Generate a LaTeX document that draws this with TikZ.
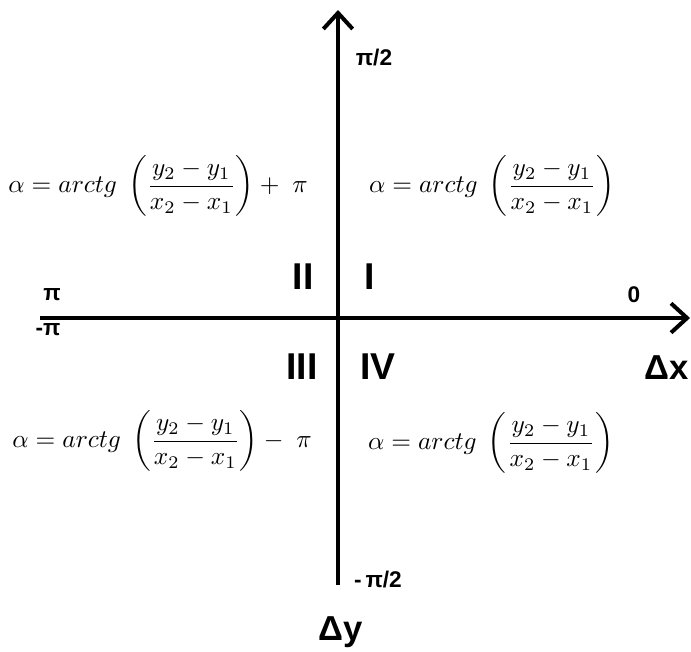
\documentclass[tikz,border=0pt]{standalone}
\usepackage{fontspec}
\usepackage{amsmath}
\usetikzlibrary{arrows.meta}
\newfontfamily\labfont{Liberation Sans}[Scale=1.0]
\tikzset{
    axis/.style={line width=3pt, -{Straight Barb[length=12pt, width=22pt, line width=3pt]}}, % the two axes
    axlabel/.style={font=\labfont\bfseries\fontsize{17}{20}\selectfont, inner sep=0pt}, % angles at the ends
    quadrant/.style={font=\labfont\bfseries\fontsize{28}{32}\selectfont, inner sep=0pt}, % I .. IV
    formula/.style={scale=1.9, inner sep=0pt}, % arctg boxes
}
\begin{document}
\begin{tikzpicture}[x=0.75pt, y=-0.75pt]
    \useasboundingbox (0,0) rectangle (691,651);

    % --- Axes ---
    \coordinate (xl) at (40,318);
    \coordinate (xr) at (690,318);
    \coordinate (yb) at (338,585);
    \coordinate (yt) at (338,10);
    \draw[axis] (xl) -- (xr);
    \draw[axis] (yb) -- (yt);

    % --- Axis labels ---
    \node[axlabel] (pihalf) at (374,58) {π/2};
    \node[axlabel] (piup) at (52,295) {π};
    \node[axlabel] (pidn) at (48,330) {-π};
    \node[axlabel] (zero) at (634,295) {0};
    \node[axlabel] (mpihalf) at (378,579) {-\,π/2};
    \node[axlabel, font=\labfont\bfseries\fontsize{26}{30}\selectfont, anchor=east] (dx) at (689,368) {Δx};
    \node[axlabel, font=\labfont\bfseries\fontsize{26}{30}\selectfont] (dy) at (341,632) {Δy};

    % --- Quadrants ---
    \node[quadrant] (qII) at (303,277) {II};
    \node[quadrant] (qI) at (370,277) {I};
    \node[quadrant] (qIII) at (302,367) {III};
    \node[quadrant] (qIV) at (378,367) {IV};

    % --- Formulas ---
    \node[formula] (fII) at (158,186) {$\displaystyle \alpha = arctg\;\left(\frac{y_2-y_1}{x_2-x_1}\right) +\; \pi$};
    \node[formula] (fI) at (492,186) {$\displaystyle \alpha = arctg\;\left(\frac{y_2-y_1}{x_2-x_1}\right)$};
    \node[formula] (fIII) at (162,441) {$\displaystyle \alpha = arctg\;\left(\frac{y_2-y_1}{x_2-x_1}\right) -\; \pi$};
    \node[formula] (fIV) at (491,443) {$\displaystyle \alpha = arctg\;\left(\frac{y_2-y_1}{x_2-x_1}\right)$};

\end{tikzpicture}
\end{document}
